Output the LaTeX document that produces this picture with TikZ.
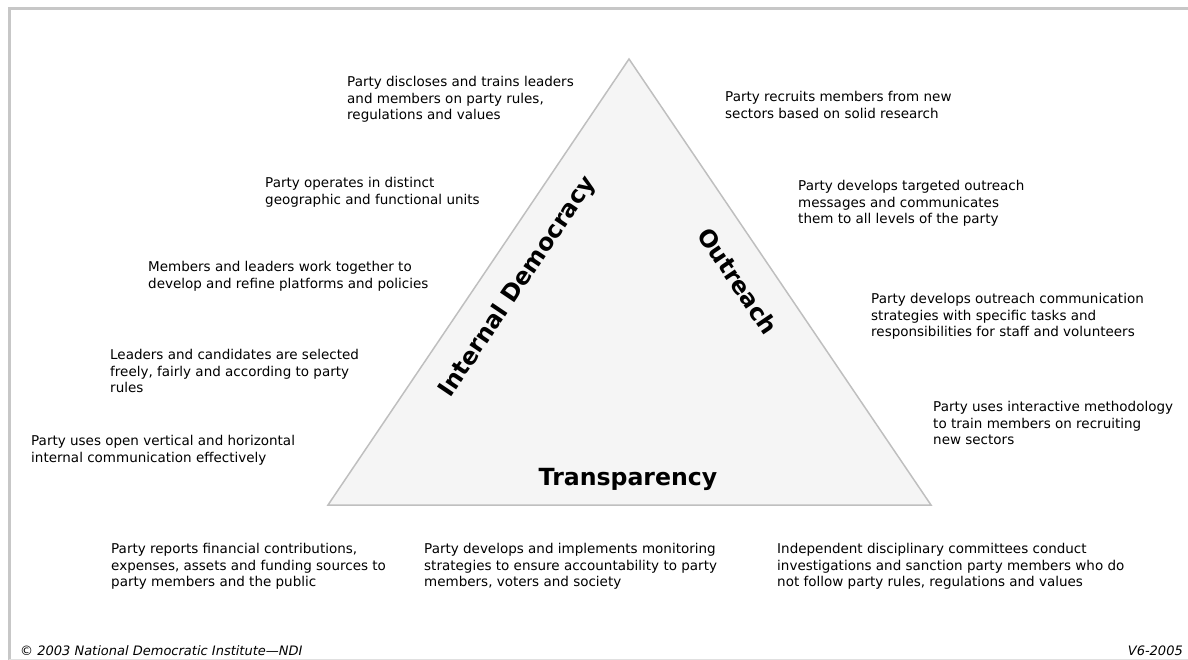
\documentclass[tikz,border=0pt]{standalone}
\usepackage{fontspec}
\setmainfont{DejaVu Sans}
\usepackage{tikz}
\usetikzlibrary{positioning}

\begin{document}
\begin{tikzpicture}[x=1pt, y=-1pt,
        pyramid/.style={draw=black!25, fill=black!4, line width=1.5pt, line join=miter},
        frame/.style={draw=black!22, line width=3pt},
        note/.style={anchor=north west, align=left, inner sep=0pt, font=\fontsize{13.5}{16.7}\selectfont},
        side/.style={inner sep=0pt, font=\fontsize{23.6}{28}\selectfont\bfseries},
        foot/.style={inner sep=0pt, font=\fontsize{13}{16}\selectfont\itshape}
      ]
        \useasboundingbox (0,0) rectangle (1188,660);
        \draw[frame] (1188,9) -- (9,9) -- (9,660);
        \draw[draw=black!12, line width=1pt] (9,659.5) -- (1188,659.5);

        \coordinate (apex)  at (629,59);
        \coordinate (left)  at (328,505);
        \coordinate (right) at (931,505);
        \draw[pyramid] (apex) -- (left) -- (right) -- cycle;

        \node[side, rotate=56]   (democracy)    at (518,287)  {Internal Democracy};
        \node[side, rotate=-56]  (outreach)     at (738,281)  {Outreach};
        \node[side]              (transparency) at (628,479)  {Transparency};

        \node[note] (rules)     at (347,76)   {Party discloses and trains leaders\\and members on party rules,\\regulations and values};
        \node[note] (units)     at (265,177)  {Party operates in distinct\\geographic and functional units};
        \node[note] (platforms) at (148,261)  {Members and leaders work together to\\develop and refine platforms and policies};
        \node[note] (selection) at (110,349)  {Leaders and candidates are selected\\freely, fairly and according to party\\rules};
        \node[note] (internal)  at (31,435)   {Party uses open vertical and horizontal\\internal communication effectively};

        \node[note] (recruit)   at (725,91)   {Party recruits members from new\\sectors based on solid research};
        \node[note] (messages)  at (798,180)  {Party develops targeted outreach\\messages and communicates\\them to all levels of the party};
        \node[note] (strategy)  at (871,293)  {Party develops outreach communication\\strategies with specific tasks and\\responsibilities for staff and volunteers};
        \node[note] (training)  at (933,401)  {Party uses interactive methodology\\to train members on recruiting\\new sectors};

        \node[note] (finance)   at (111,543)  {Party reports financial contributions,\\expenses, assets and funding sources to\\party members and the public};
        \node[note] (monitor)   at (424,543)  {Party develops and implements monitoring\\strategies to ensure accountability to party\\members, voters and society};
        \node[note] (discipline) at (777,543) {Independent disciplinary committees conduct\\investigations and sanction party members who do\\not follow party rules, regulations and values};

        \node[foot, anchor=base west] (copyright) at (20,655)   {\textcopyright{} 2003 National Democratic Institute---NDI};
        \node[foot, anchor=base east] (version)   at (1183,655) {V6-2005};
      \end{tikzpicture}
\end{document}
